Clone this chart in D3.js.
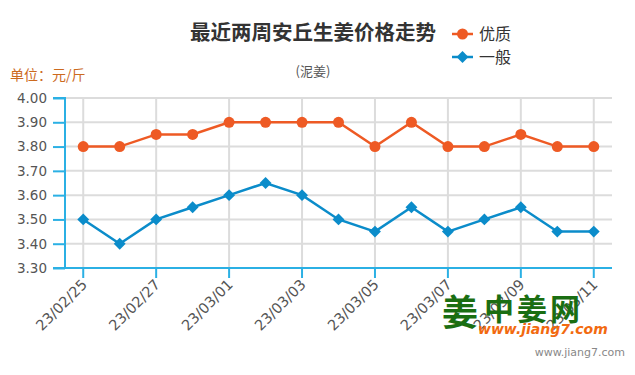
<!DOCTYPE html>
<html><head><meta charset="utf-8">
<script src="https://cdn.jsdelivr.net/npm/d3@7"></script>
<style>body{margin:0;background:#fff}svg{display:block}</style>
</head><body>
<svg id="c" width="635" height="375"></svg>
<script>
const categories = ["23/02/25","23/02/26","23/02/27","23/02/28","23/03/01","23/03/02","23/03/03","23/03/04","23/03/05","23/03/06","23/03/07","23/03/08","23/03/09","23/03/10","23/03/11"];
const premium = [3.80,3.80,3.85,3.85,3.90,3.90,3.90,3.90,3.80,3.90,3.80,3.80,3.85,3.80,3.80];
const normal  = [3.50,3.40,3.50,3.55,3.60,3.65,3.60,3.50,3.45,3.55,3.45,3.50,3.55,3.45,3.45];
const yTicks = [3.30,3.40,3.50,3.60,3.70,3.80,3.90,4.00];
const seriesNames = ["优质","一般"];

const svg = d3.select("#c");
const font = "'Noto Sans CJK SC','Noto Sans',sans-serif";
const numFont = "'DejaVu Sans',Verdana,sans-serif";
const orange = "#ee5a24", blue = "#0b8cca", axisC = "#2bb0e4", gridC = "#dcdcdc";
const L = 65, R = 612, T = 98, B = 268;

const x = d3.scaleBand().domain(categories).range([L, R]);
const y = d3.scaleLinear().domain([3.30, 4.00]).range([B, T]);
const cx = d => x(d) + x.bandwidth()/2;

// horizontal grid
svg.append("g").selectAll("line").data(yTicks.filter(v=>v>3.3)).join("line")
  .attr("x1", L).attr("x2", R).attr("y1", d=>y(d)).attr("y2", d=>y(d))
  .attr("stroke", gridC).attr("stroke-width", 2);
// vertical grid at labelled categories
const labelled = categories.filter((d,i)=>i%2===0);
svg.append("g").selectAll("line").data(labelled).join("line")
  .attr("x1", d=>cx(d)).attr("x2", d=>cx(d)).attr("y1", T).attr("y2", B)
  .attr("stroke", gridC).attr("stroke-width", 2);

// y axis
const yAxis = d3.axisLeft(y).tickValues(yTicks).tickFormat(d3.format(".2f")).tickSize(12).tickPadding(6);
const gy = svg.append("g").attr("transform", `translate(${L},0)`).call(yAxis);
gy.select(".domain").attr("stroke", axisC).attr("stroke-width", 2).attr("d", `M-12,${T}H0V${B}`);
gy.selectAll(".tick line").attr("stroke", axisC).attr("stroke-width", 2);
gy.selectAll(".tick text").attr("fill", "#555").attr("font-size", 13.5).attr("font-family", numFont);

// x axis
const xAxis = d3.axisBottom(x).tickValues(labelled).tickSize(10).tickPadding(4);
const gx = svg.append("g").attr("transform", `translate(0,${B})`).call(xAxis);
gx.select(".domain").attr("stroke", axisC).attr("stroke-width", 2).attr("d", `M${L-12},0H${R}`);
gx.selectAll(".tick line").attr("stroke", axisC).attr("stroke-width", 2);
gx.selectAll(".tick text").attr("fill", "#555").attr("font-size", 14.5).attr("font-family", numFont)
  .attr("text-anchor", "end").attr("dy", "0.35em")
  .attr("transform", "translate(4,11) rotate(-45)").attr("x", -4).attr("y", 0);

// logo watermark
const logo = svg.append("g");
logo.append("text").attr("x", 442).attr("y", 326).attr("font-size", 36).attr("font-weight", "bold")
  .attr("fill", "#1a6e12").attr("font-family", font).text("姜");
logo.append("text").attr("x", 484).attr("y", 320).attr("font-size", 30).attr("font-weight", "bold")
  .attr("fill", "#1a6e12").attr("font-family", font).attr("letter-spacing", 3).text("中姜网");
logo.append("text").attr("x", 478).attr("y", 334).attr("font-size", 14).attr("font-weight", "bold")
  .attr("font-style", "italic").attr("fill", "#f26a10").attr("font-family", numFont).text("www.jiang7.com");
svg.append("text").attr("x", 625).attr("y", 356).attr("text-anchor", "end").attr("font-size", 11)
  .attr("fill", "#888").attr("font-family", numFont).text("www.jiang7.com");

// lines
const line = d3.line().x((d,i)=>cx(categories[i])).y(d=>y(d));
svg.append("path").datum(premium).attr("d", line).attr("fill","none").attr("stroke", orange).attr("stroke-width", 2.5);
svg.append("path").datum(normal).attr("d", line).attr("fill","none").attr("stroke", blue).attr("stroke-width", 2.5);
svg.append("g").selectAll("circle").data(premium).join("circle")
  .attr("cx", (d,i)=>cx(categories[i])).attr("cy", d=>y(d)).attr("r", 5.5).attr("fill", orange);
const diamond = d3.symbol().type(d3.symbolDiamond2 || d3.symbolDiamond).size(90);
svg.append("g").selectAll("path").data(normal).join("path")
  .attr("d", diamond).attr("transform", (d,i)=>`translate(${cx(categories[i])},${y(d)})`).attr("fill", blue);

// title
svg.append("text").attr("x", 313).attr("y", 40).attr("text-anchor", "middle").attr("font-size", 20.5)
  .attr("font-weight", "bold").attr("fill", "#333").attr("font-family", font).text("最近两周安丘生姜价格走势");
svg.append("text").attr("x", 313).attr("y", 76).attr("text-anchor", "middle").attr("font-size", 13)
  .attr("fill", "#555").attr("font-family", font).text("(泥姜)");
svg.append("text").attr("x", 10).attr("y", 80).attr("font-size", 14)
  .attr("fill", "#cc6a1e").attr("font-family", font).text("单位：元/斤");

// legend
const leg = svg.append("g");
[[orange, "circle", 34], [blue, "diamond", 57]].forEach(([c, s, yy], i) => {
  leg.append("line").attr("x1", 452).attr("x2", 473).attr("y1", yy).attr("y2", yy).attr("stroke", c).attr("stroke-width", 2.5);
  if (s === "circle") leg.append("circle").attr("cx", 462.5).attr("cy", yy).attr("r", 5.5).attr("fill", c);
  else leg.append("path").attr("d", diamond).attr("transform", `translate(462.5,${yy})`).attr("fill", c);
  leg.append("text").attr("x", 479).attr("y", yy).attr("dy", "0.35em").attr("font-size", 16)
    .attr("fill", "#333").attr("font-family", font).text(seriesNames[i]);
});
</script>
</body></html>
